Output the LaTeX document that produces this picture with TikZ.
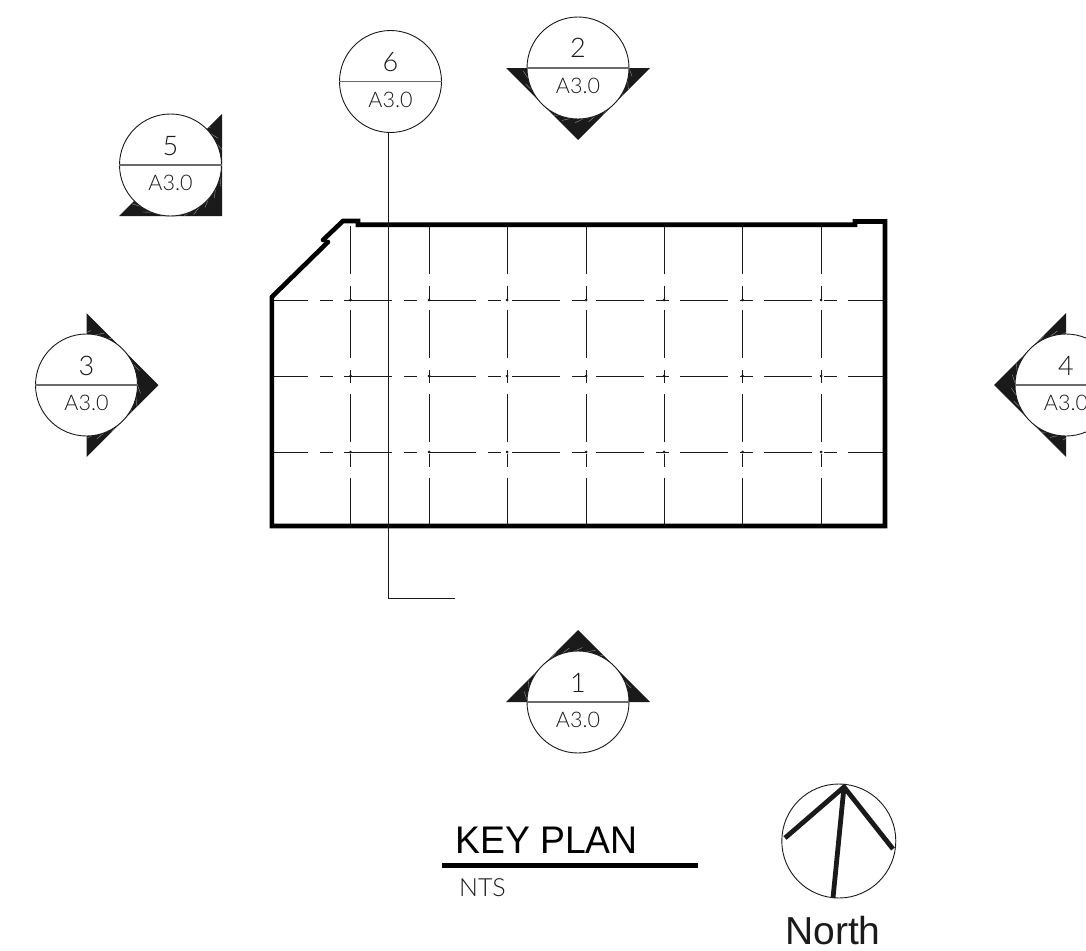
\documentclass[tikz,border=0pt]{standalone}
\usepackage{fontspec}
\setmainfont{Liberation Sans}
\newfontfamily\thinfont{Lato Light}
\definecolor{ink}{HTML}{1A1A1A}
\tikzset{
  secmark/.style={circle,draw=ink,fill=white,line width=0.9pt,minimum size=102pt,inner sep=0pt},
  divider/.style={draw=ink!65,line width=1.1pt},
  wedge/.style={fill=ink,draw=none},
  hatchline/.style={draw=white!60!ink,line width=0.35pt},
  gridline/.style={draw=ink,line width=0.9pt,dash pattern=on 48pt off 12pt on 13pt off 11pt},
  griddot/.style={fill=ink,draw=none},
  wall/.style={draw=black,line width=4.6pt,line join=miter},
  numtext/.style={inner sep=0pt,anchor=base,font=\thinfont\fontsize{27}{27}\selectfont,text=ink},
  shttext/.style={inner sep=0pt,anchor=base,font=\thinfont\fontsize{21.5}{21.5}\selectfont,text=ink},
  leader/.style={draw=ink,line width=0.9pt},
  arm/.style={draw=ink,line width=4.8pt},
}
\begin{document}
\begin{tikzpicture}[x=1pt,y=-1pt]
\path[use as bounding box,fill=white] (0,0) rectangle (1086,950);
% grid
\foreach \gy in {300,376,452}{
  \draw[gridline,dash phase=11pt] (271,\gy) -- (883,\gy);
}
\foreach \gx in {350.5,429,507,586,664,742.5,821}{
  \draw[gridline] (\gx,226) -- (\gx,526);
  \foreach \gy in {300,376,452}{
    \fill[griddot] (\gx,\gy) circle (1.5pt);
  }
}
% building outline
\draw[wall,line cap=round] (323,240) -- (343,221) -- (358,221) -- (358,224.7) -- (855,224.7) -- (855,221.5) -- (885,221.5) -- (885,526) -- (271.8,526) -- (271.8,297) -- (328,242);
\draw[black,line width=2.5pt] (323,240) -- (328,242);
% wedges with their faint solid-fill seams
\foreach \cx/\cy/\shape in {
  578/68/{(506,68) -- (650,68) -- (578,140) -- cycle},
  578/702/{(506,702) -- (650,702) -- (578,630) -- cycle},
  86.5/385/{(86.5,313) -- (158.5,385) -- (86.5,457) -- cycle},
  1066/385/{(1066,313) -- (994,385) -- (1066,457) -- cycle},
  170.5/165/{(222,114) -- (222,216) -- (119,216) -- cycle}}{
  \fill[wedge] \shape;
  \begin{scope}
    \clip \shape;
    \foreach \a in {0,14,...,346}{
      \draw[hatchline] (\cx,\cy) ++(\a:51) -- ++(\a+70:9);
    }
  \end{scope}
}
% section markers
\node[secmark] (m6) at (390.5,81.5) {};
\node[secmark] (m2) at (578,68) {};
\node[secmark] (m1) at (578,702) {};
\node[secmark] (m3) at (86.5,385) {};
\node[secmark] (m4) at (1066,385) {};
\node[secmark] (m5) at (170.5,165) {};
\foreach \m/\d in {m6/6,m2/2,m1/1,m3/3,m4/4,m5/5}{
  \draw[divider] (\m.west) -- (\m.east);
  \node[numtext] (\m num) at ([yshift=10pt]\m.center) {\d};
  \node[shttext] (\m sht) at ([yshift=-25.5pt]\m.center) {A3.0};
}
% leader
\coordinate (leadtop) at (388.5,132.5);
\coordinate (leadcorner) at (388.5,598);
\coordinate (leadend) at (455,598);
\draw[leader] (leadtop) -- (leadcorner) -- (leadend);
% title
\node[inner sep=0pt,anchor=base west,font=\fontsize{38.5}{38.5}\selectfont,text=black] (title) at (455,853) {\scalebox{0.97}[1]{KEY PLAN}};
\coordinate (ruleL) at (442,865.5);
\coordinate (ruleR) at (698,865.5);
\draw[black,line width=4.5pt] (ruleL) -- (ruleR);
\node[inner sep=0pt,anchor=base west,font=\thinfont\fontsize{25}{25}\selectfont,text=ink] (nts) at (459,896) {NTS};
% north arrow
\node[circle,draw=ink,line width=0.9pt,minimum size=114pt,inner sep=0pt] (north) at (838.8,841) {};
\coordinate (apex) at (844,787);
\coordinate (armL) at (785,838);
\coordinate (armR) at (893,849);
\coordinate (stem) at (833,898);
\draw[arm,line join=miter] (armL) -- (apex) -- (armR);
\draw[arm] (apex) -- (stem);
\node[inner sep=0pt,anchor=base west,font=\fontsize{39}{39}\selectfont,text=ink] (northlabel) at (785,944) {North};
\end{tikzpicture}
\end{document}
